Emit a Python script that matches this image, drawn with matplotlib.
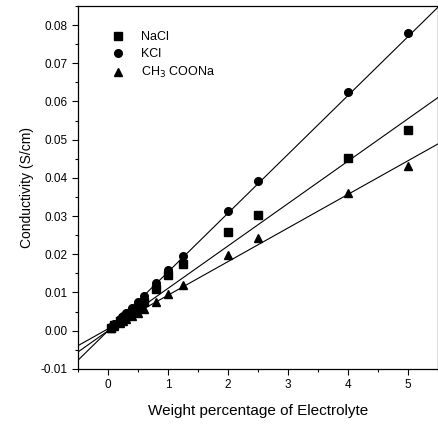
import numpy as np
import matplotlib
matplotlib.use('Agg')
import matplotlib.pyplot as plt
from matplotlib.ticker import MultipleLocator, FormatStrFormatter

# weight percentage of electrolyte
wt = [0.05, 0.1, 0.2, 0.25, 0.3, 0.4, 0.5, 0.6, 0.8, 1.0, 1.25, 2.0, 2.5, 4.0, 5.0]

# conductivity (S/cm)
nacl = [0.0008, 0.0014, 0.0026, 0.0032, 0.0038, 0.0050, 0.0062, 0.0075, 0.0110,
        0.0145, 0.0175, 0.0259, 0.0304, 0.0453, 0.0524]
kcl = [0.0010, 0.0017, 0.0030, 0.0038, 0.0046, 0.0060, 0.0075, 0.0092, 0.0125,
       0.0158, 0.0195, 0.0312, 0.0393, 0.0626, 0.0780]
ch3coona = [0.0006, 0.0011, 0.0020, 0.0025, 0.0030, 0.0038, 0.0046, 0.0056, 0.0075,
            0.0095, 0.0120, 0.0197, 0.0243, 0.0361, 0.0432]

# linear fits (slope, intercept)
fit_nacl = (0.0111, 0.0)
fit_kcl = (0.0154, 0.0)
fit_ch3coona = (0.0088, 0.0005)

plt.rcParams['font.family'] = ['Liberation Sans', 'DejaVu Sans']

fig = plt.figure(figsize=(4.39, 4.24), dpi=100)
ax = fig.add_axes([0.178, 0.130, 0.820, 0.856])

xl = np.array([-0.5, 5.5])
for (m, b) in [fit_nacl, fit_kcl, fit_ch3coona]:
    ax.plot(xl, m * xl + b, color='black', lw=0.8)

ax.plot(wt, nacl, 's', color='black', ms=5.5, label='NaCl')
ax.plot(wt, kcl, 'o', color='black', ms=5.5, label='KCl')
ax.plot(wt, ch3coona, '^', color='black', ms=6, label='CH$_3$ COONa')

ax.set_xlim(-0.5, 5.5)
ax.set_ylim(-0.01, 0.085)
ax.xaxis.set_major_locator(MultipleLocator(1))
ax.xaxis.set_minor_locator(MultipleLocator(0.5))
ax.yaxis.set_major_locator(MultipleLocator(0.01))
ax.yaxis.set_minor_locator(MultipleLocator(0.005))
ax.yaxis.set_major_formatter(FormatStrFormatter('%.2f'))
ax.tick_params(which='both', direction='out', labelsize=8.5, width=0.8)
ax.tick_params(which='major', length=4)
ax.tick_params(which='minor', length=2.5)
for s in ax.spines.values():
    s.set_linewidth(0.9)

ax.set_xlabel('Weight percentage of Electrolyte', fontsize=11, labelpad=9)
ax.set_ylabel('Conductivity (S/cm)', fontsize=10, labelpad=5)

ax.legend(loc='upper left', frameon=False, fontsize=9, handletextpad=1.1,
          labelspacing=0.42, bbox_to_anchor=(0.07, 0.945), borderaxespad=0,
          handlelength=1.5)

plt.savefig('out.png', dpi=100)
